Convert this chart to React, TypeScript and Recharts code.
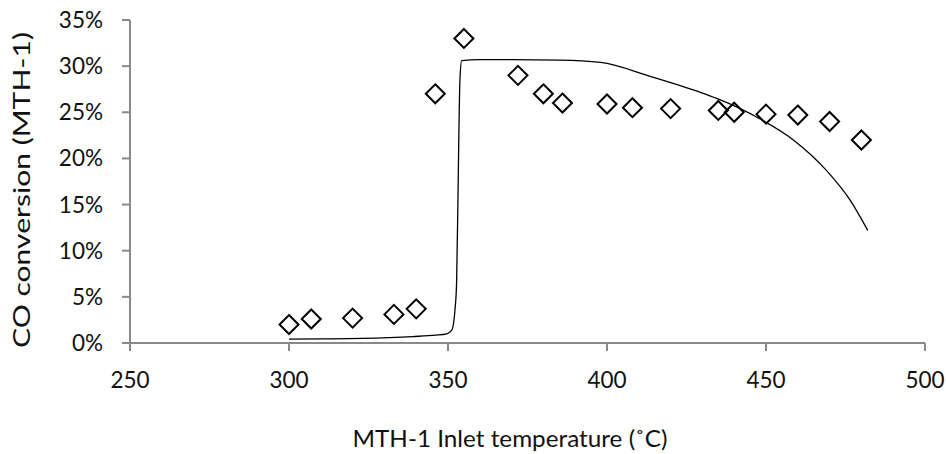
import React from "react";
import { ComposedChart, XAxis, YAxis, Line, Scatter } from "recharts";

// Measured data points (MTH-1 inlet temperature, CO conversion)
const temps = [300, 307, 320, 333, 340, 346, 355, 372, 380, 386, 400, 408, 420, 435, 440, 450, 460, 470, 480];
const conversions = [0.020, 0.026, 0.027, 0.031, 0.037, 0.270, 0.330, 0.290, 0.270, 0.260, 0.259, 0.255, 0.254, 0.252, 0.250, 0.248, 0.247, 0.240, 0.220];

// Model curve
const modelTemps = [300, 310, 323, 339, 346, 349.6, 351.2, 352.2, 352.7, 353.2, 353.5, 353.8, 354.3, 360, 370, 385, 398, 413.5, 429, 434.5, 448, 458.6, 469, 476.4, 482];
const modelConv = [0.0043, 0.0045, 0.005, 0.007, 0.0085, 0.010, 0.014, 0.036, 0.065, 0.173, 0.245, 0.289, 0.306, 0.307, 0.307, 0.3065, 0.304, 0.289, 0.272, 0.265, 0.243, 0.220, 0.187, 0.155, 0.122];

const xTicks = [250, 300, 350, 400, 450, 500];
const yTicks = [0, 0.05, 0.1, 0.15, 0.2, 0.25, 0.3, 0.35];

const xTitle = "MTH-1 Inlet temperature (˚C)";
const yTitle = "CO conversion (MTH-1)";

const measured = temps.map((x, i) => ({ x, y: conversions[i] }));
const model = modelTemps.map((x, i) => ({ x, y: modelConv[i] }));

const FONT = "Lato, 'Open Sans', sans-serif";
const AXIS = "#898989";

const Diamond = (props: any) => {
  const { cx, cy } = props;
  const r = 9.5;
  return (
    <path
      d={`M${cx},${cy - r} L${cx + r},${cy} L${cx},${cy + r} L${cx - r},${cy} Z`}
      fill="none"
      stroke="#000"
      strokeWidth={2}
    />
  );
};

const YTick = (props: any) => {
  const { x, y, payload } = props;
  return (
    <text x={x - 17} y={y + 8} textAnchor="end" fontFamily={FONT} fontSize={22.5} fill="#111">
      {Math.round(payload.value * 100) + "%"}
    </text>
  );
};

const XTick = (props: any) => {
  const { x, y, payload } = props;
  return (
    <text x={x} y={y + 35} textAnchor="middle" fontFamily={FONT} fontSize={22.5} fill="#111">
      {payload.value}
    </text>
  );
};

export default function App() {
  return (
    <div style={{ position: "absolute", left: 0, top: 0, width: 946, height: 454, background: "#fff" }}>
      <ComposedChart width={946} height={454} margin={{ top: 20, right: 21, bottom: 0, left: 0 }}>
        <XAxis
          type="number"
          dataKey="x"
          domain={[250, 500]}
          ticks={xTicks}
          allowDataOverflow
          height={111}
          stroke={AXIS}
          strokeWidth={2}
          tickSize={8}
          tickLine={{ stroke: AXIS, strokeWidth: 2 }}
          tick={<XTick />}
          label={{
            content: () => (
              <text
                x={510}
                y={447}
                textAnchor="middle"
                fontFamily={FONT}
                fontSize={23.5}
                fill="#111"
                textLength={315}
                lengthAdjust="spacingAndGlyphs"
              >
                {xTitle}
              </text>
            ),
          }}
        />
        <YAxis
          type="number"
          dataKey="y"
          domain={[0, 0.35]}
          ticks={yTicks}
          allowDataOverflow
          width={130}
          stroke={AXIS}
          strokeWidth={2}
          tickSize={8}
          tickLine={{ stroke: AXIS, strokeWidth: 2 }}
          tick={<YTick />}
          label={{
            content: () => (
              <text
                transform="translate(30,190) rotate(-90)"
                textAnchor="middle"
                fontFamily={FONT}
                fontSize={23.5}
                fill="#111"
                textLength={316}
                lengthAdjust="spacingAndGlyphs"
              >
                {yTitle}
              </text>
            ),
          }}
        />
        <Line
          data={model}
          dataKey="y"
          type="monotone"
          stroke="#000"
          strokeWidth={1.3}
          dot={false}
          activeDot={false}
          isAnimationActive={false}
        />
        <Scatter data={measured} dataKey="y" shape={<Diamond />} isAnimationActive={false} />
      </ComposedChart>
    </div>
  );
}
